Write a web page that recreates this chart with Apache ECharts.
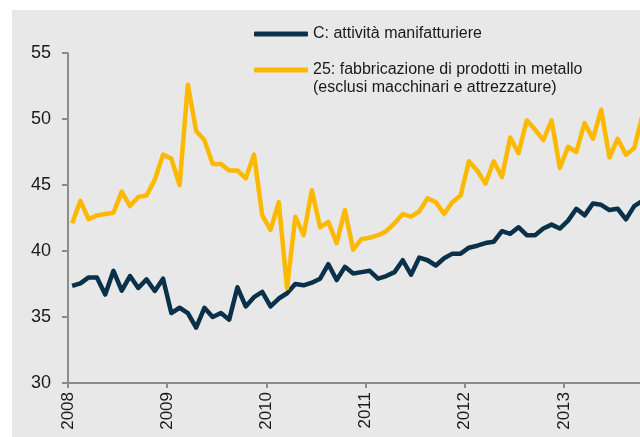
<!DOCTYPE html>
<html>
<head>
<meta charset="utf-8">
<script src="https://cdn.jsdelivr.net/npm/echarts@6/dist/echarts.min.js"></script>
<style>
html,body{margin:0;padding:0;background:#ffffff;}
#chart{width:640px;height:437px;}
</style>
</head>
<body>
<div id="chart"></div>
<script>
// Monthly data starting January 2008 (index 0 = Jan 2008)
var yearLabels = ['2008', '2009', '2010', '2011', '2012', '2013'];
var seriesNames = ['C: attività manifatturiere', '25: fabbricazione di prodotti in metallo\n(esclusi macchinari e attrezzature)'];

var manifatturiere = [
  37.35, 37.55, 38.0, 38.0, 36.7, 38.5, 37.0, 38.1, 37.2, 37.85, 36.97, 37.9,
  35.3, 35.7, 35.3, 34.2, 35.7, 35.0, 35.3, 34.8, 37.25, 35.8, 36.5, 36.9,
  35.8, 36.4, 36.8, 37.5, 37.4, 37.6, 37.9, 39.0, 37.8, 38.8, 38.3, 38.4,
  38.5, 37.9, 38.1, 38.4, 39.3, 38.2, 39.5, 39.3, 38.9, 39.45, 39.8, 39.8,
  40.25, 40.4, 40.6, 40.7, 41.5, 41.3, 41.8, 41.2, 41.2, 41.7, 42.0, 41.7,
  42.3, 43.2, 42.7, 43.6, 43.5, 43.1, 43.2, 42.4, 43.4, 43.8
];
var prodottiMetallo = [
  42.1, 43.8, 42.4, 42.7, 42.8, 42.9, 44.5, 43.4, 44.1, 44.2, 45.4, 47.3,
  47.0, 45.0, 52.6, 49.1, 48.4, 46.6, 46.6, 46.1, 46.1, 45.5, 47.3, 42.7,
  41.6, 43.7, 37.2, 42.6, 41.2, 44.6, 41.8, 42.2, 40.6, 43.1, 40.1, 40.9,
  41.0, 41.2, 41.5, 42.1, 42.8, 42.6, 43.0, 44.0, 43.7, 42.8, 43.7, 44.2,
  46.8, 46.1, 45.1, 46.8, 45.6, 48.6, 47.4, 49.9, 49.2, 48.4, 49.9, 46.3,
  47.9, 47.5, 49.7, 48.5, 50.7, 47.1, 48.5, 47.3, 47.8, 50.3
];

function toPairs(arr) {
  return arr.map(function (v, i) { return [i + 0.5, v]; });
}

var chart = echarts.init(document.getElementById('chart'), null, {renderer: 'canvas'});
var axisColor = '#8c8c8c';
var font = '"Liberation Sans", Arial, Helvetica, sans-serif';

chart.setOption({
  animation: false,
  backgroundColor: '#ffffff',
  graphic: [{
    type: 'rect', z: -10, silent: true,
    shape: {x: 12, y: 10, width: 640, height: 440},
    style: {fill: '#e8e8e8'}
  }],
  legend: [{
    data: [seriesNames[0]],
    left: 254, top: 25, padding: 0,
    icon: 'roundRect', itemWidth: 54, itemHeight: 5,
    textStyle: {fontFamily: font, fontSize: 16, color: '#1a1a1a', lineHeight: 18},
    selectedMode: false
  }, {
    data: [seriesNames[1]],
    left: 254, top: 43, padding: 0,
    icon: 'roundRect', itemWidth: 54, itemHeight: 5,
    // leading blank line keeps the line sample level with the first text line
    formatter: function (name) { return '\n' + name; },
    textStyle: {fontFamily: font, fontSize: 16, color: '#1a1a1a', lineHeight: 18},
    selectedMode: false
  }],
  grid: {left: 68, right: 0, top: 53, bottom: 54, containLabel: false},
  xAxis: {
    type: 'value', min: 0, max: 69.2, interval: 12,
    axisLine: {show: true, lineStyle: {color: axisColor, width: 2}},
    axisTick: {show: true, length: 5, lineStyle: {color: axisColor, width: 2}},
    splitLine: {show: false},
    axisLabel: {
      rotate: 90, margin: 9, showMaxLabel: false,
      fontFamily: font, fontSize: 17, color: '#1a1a1a',
      formatter: function (v) {
        var k = Math.round(v / 12);
        return (Math.abs(v - k * 12) < 1e-6 && yearLabels[k]) ? yearLabels[k] : '';
      }
    }
  },
  yAxis: {
    type: 'value', min: 30, max: 55, interval: 5,
    axisLine: {show: true, lineStyle: {color: axisColor, width: 2}},
    axisTick: {show: true, length: 6, lineStyle: {color: axisColor, width: 2}},
    splitLine: {show: false},
    axisLabel: {margin: 17, fontFamily: font, fontSize: 18, color: '#1a1a1a'}
  },
  series: [{
    name: seriesNames[0], type: 'line', data: toPairs(manifatturiere),
    showSymbol: false, symbol: 'none', clip: true,
    lineStyle: {color: '#0b3049', width: 4.5, join: 'round'},
    itemStyle: {color: '#0b3049'}
  }, {
    name: seriesNames[1], type: 'line', data: toPairs(prodottiMetallo),
    showSymbol: false, symbol: 'none', clip: true,
    lineStyle: {color: '#fdb900', width: 4.5, join: 'round'},
    itemStyle: {color: '#fdb900'}
  }]
});
</script>
</body>
</html>
